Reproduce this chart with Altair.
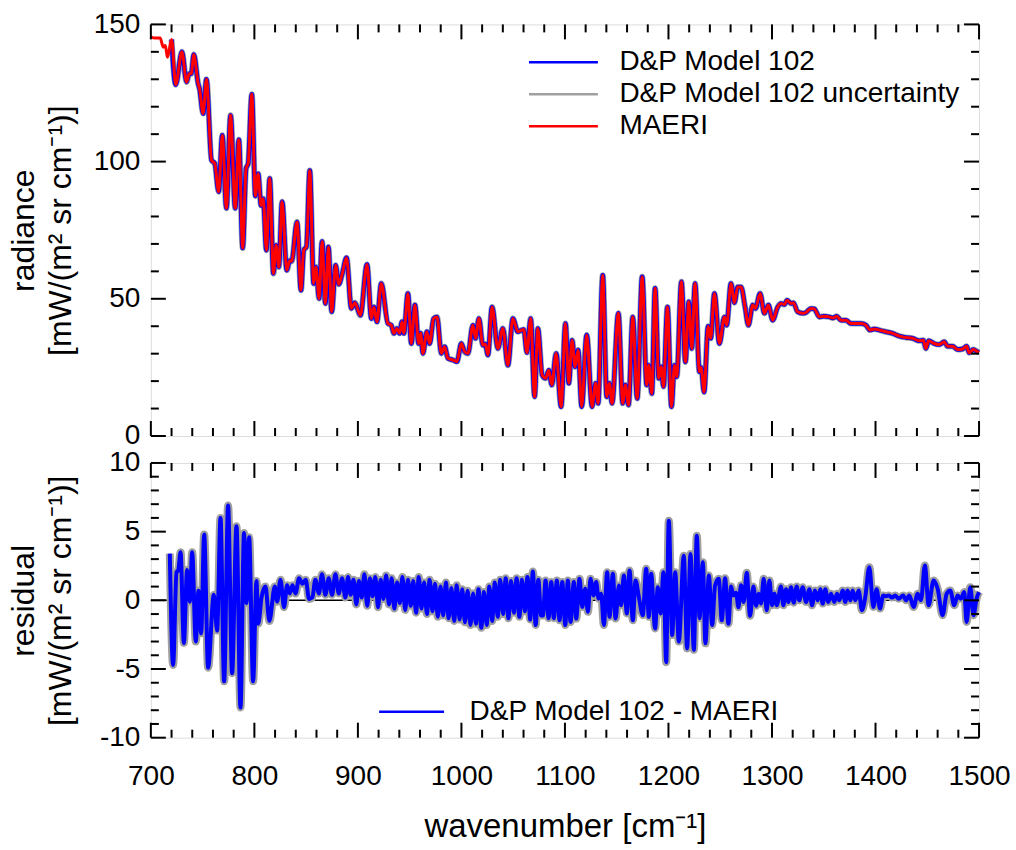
import altair as alt
import pandas as pd

# ---------------- data ----------------
MAERI_WN = [700, 704, 709, 712, 714, 716, 720, 724, 730, 734.5, 737, 739, 741.5, 745.7, 747, 750.5,
            753.7, 758.6, 761.7, 765.5, 769, 773, 777, 781.5, 785, 788.7, 792, 794, 797.5, 801,
            803.6, 806.5, 808.5, 811.6, 814.8, 818.4, 821, 823.6, 826.8, 831.3, 834.2, 836, 841.2,
            845, 847.7, 850.3, 853.5, 857.3, 859.5, 862.5, 865.4, 868.6, 871.5, 874.7, 878.5, 881.5,
            885, 889, 893.7, 897, 902.4, 908.8, 913, 915.5, 918.4, 922.6, 929, 932.2, 934.8, 937.7,
            940.3, 942.6, 944.4, 948.3, 951.6, 955.1, 958.7, 960.6, 962.8, 966.6, 969.3, 973.1,
            976.4, 980.6, 983.8, 987, 991.8, 995.7, 999.9, 1003.1, 1006.3, 1011.1, 1013.7, 1016.9,
            1020.7, 1023, 1025.6, 1029.6, 1035.2, 1040, 1044.9, 1049.7, 1054.5, 1057, 1060.2,
            1063.3, 1066.9, 1070.7, 1073.8, 1078, 1081.3, 1084.4, 1087.3, 1091.5, 1096.3, 1100.5,
            1103.7, 1106.9, 1109.8, 1112.7, 1116.2, 1121, 1126.2, 1129.6, 1132, 1136.5, 1140.4,
            1142.9, 1145.5, 1151.6, 1155.8, 1158.4, 1161.4, 1165.5, 1169.8, 1174.6, 1179, 1181,
            1183.9, 1187.1, 1190.6, 1192.9, 1195.2, 1199, 1202.9, 1205.8, 1208, 1212.5, 1216.4,
            1219.6, 1222.5, 1225.7, 1229.9, 1231.5, 1234.4, 1238.3, 1240.8, 1244.4, 1249.2, 1254,
            1256.2, 1260.4, 1263.7, 1266.9, 1270.1, 1274, 1277.2, 1281.4, 1284, 1288.5, 1292.7,
            1296.5, 1300.7, 1305.5, 1308.8, 1312, 1314.6, 1318.4, 1320.7, 1324.7, 1330.3, 1332.8,
            1337.7, 1340.9, 1345.8, 1349.7, 1355.4, 1358.7, 1362.5, 1366.7, 1371.5, 1376.3, 1381.1,
            1386, 1390.8, 1394.6, 1398.8, 1403.7, 1410, 1416.5, 1423, 1429.4, 1435.8, 1442.3,
            1446.2, 1448.7, 1451.3, 1456.7, 1461.5, 1466.4, 1469.6, 1474.4, 1479.3, 1484.1, 1488,
            1490.5, 1494.4, 1498.6, 1500]
MAERI_RAD = [145.5, 145, 145, 141.7, 142.3, 138, 144.5, 128, 140, 129, 132, 132, 139, 128.4, 126.6, 117.5,
             130, 100.5, 99.3, 89, 109.6, 83, 116.9, 83, 108, 68.5, 97.5, 99.3, 124.5, 87.5,
             95.6, 84, 86.5, 67.7, 93.8, 59.2, 69.5, 61.6, 85.4, 60.4, 64, 63.7, 78,
             53.1, 67.7, 69, 96.8, 55.6, 61.6, 50.1, 70.9, 48.3, 68.9, 45.3, 62.2, 55.3,
             59.3, 65, 46.5, 48.6, 44, 62.5, 42.8, 47, 41.6, 55.6, 41, 40.4, 37.4, 39.2,
             37.4, 41.6, 37.4, 51.9, 33.7, 47.7, 33.7, 37.4, 30.1, 38, 33.7, 42.8,
             43.4, 30.1, 32.5, 28.3, 27.7, 27.1, 33.7, 30.7, 30.1, 40.4, 35.6, 42.8,
             33.1, 33.5, 29.5, 47, 31.9, 39.2, 25.8, 42.8, 38, 38.4, 38.8,
             30.4, 42.8, 14.3, 39.2, 22.2, 21, 24, 18.6, 30.1, 10.7, 41,
             19.2, 34.9, 25.2, 31.3, 10.7, 36.8, 10.7, 19.2, 11.9, 58.6, 14.3,
             19.2, 11.9, 44.7, 11.9, 18.6, 11.3, 43.4, 13.7, 58, 18.6, 25.8,
             15.5, 53.8, 21, 25.2, 18, 47, 10.7, 25.8, 21.6, 56.2, 27,
             48.9, 31.9, 55.6, 23.4, 25, 16, 40, 35.6, 51.9, 33.7, 43.4,
             40.4, 55.6, 48.6, 54.3, 54.3, 47, 40.4, 47.7, 46.5, 51.9, 44.7,
             47.7, 42.2, 47, 48.3, 47.9, 49.5, 48.3, 48.6, 45.3, 44.7, 45,
             46.5, 46.3, 43.4, 43.6, 43.4, 43, 43.6, 42.2, 42.2, 41, 41,
             41, 40.4, 38.6, 39, 38.6, 38, 37.4, 36.4, 35.9, 35.6, 34.7,
             34.9, 31.9, 34.7, 33.7, 33.3, 34.3, 32.7, 32.7, 31.5, 31.7, 32.7,
             30.3, 31.5, 30.7, 30.5]

RES_WN = [718.3, 721.5, 724.8, 726.5, 728.7, 731.9, 735, 737.6, 739.9, 743.4, 746, 748.6, 751.5, 755.3,
          760.8, 764, 767.3, 770.8, 774.6, 778.5, 782.7, 786.6, 790, 792.4, 794.9, 798.8, 802, 803.8,
          806.9, 810.7, 814.5, 819.7, 822, 825.2, 828.7, 831.6, 834.2, 836.8, 839.7, 843.2, 846.4,
          849.6, 852.8, 856, 858.9, 862.4, 865.3, 868.6, 871.8, 875, 878.3,
          881.5, 884.7, 887.9, 890.5, 893, 895.8, 898.5, 901, 903.7, 906.3, 909, 911.6, 914.2, 916.8,
          919.5, 922, 924.7, 927.3, 930, 932.6, 935.2, 937.8, 940.5, 943, 945.7, 948.3, 951, 953.5,
          956.2, 958.8, 961.4, 964, 966.7, 969.3, 972, 974.5, 977.2, 979.8, 982.4, 985, 987.7, 990.3,
          993, 995.5, 998.2, 1000.8, 1003.4, 1006, 1008.7, 1011.3, 1014, 1016.5, 1019.2, 1021.8,
          1024.4, 1027, 1029.7, 1032.3, 1035, 1037.5, 1040.2, 1042.8, 1045.4, 1048, 1050.7, 1053.3,
          1056, 1058.5, 1061.2, 1063.8, 1066.4, 1069, 1071.7, 1074.3, 1077,
          1078.7, 1081.3, 1084.2, 1086.8, 1089.3, 1092.2, 1094.8, 1097.4, 1100.3, 1102.8, 1105.4,
          1108.6, 1110.9, 1114.1, 1116.7, 1119.6, 1122.2, 1124.7, 1127.6, 1130.2, 1132.5, 1135,
          1137.6, 1140.8, 1143.1, 1146.3, 1148.9, 1152.1, 1154.3, 1156.9, 1159.8, 1162.4, 1165.6,
          1168.2, 1171.4, 1175.2, 1178.5, 1181, 1183.3, 1187.1, 1189.7, 1192.3, 1195.2, 1197.8,
          1200.3, 1203.6, 1206.5, 1210, 1214.8, 1218, 1221.3, 1224.5, 1227.4, 1230, 1233.2, 1235.7,
          1239, 1242.2, 1245,
          1248.6, 1251.5, 1254.7, 1257.9, 1260.5, 1262.7, 1265.3, 1267.6, 1270.1, 1272.7, 1275.6,
          1278.8, 1282, 1284.6, 1287.2, 1289.4, 1292, 1294.9, 1297.5, 1300, 1302.3, 1304.6, 1308.7,
          1311, 1313.6, 1315.8, 1318.4, 1321, 1323.9, 1326.4, 1329.7, 1332.9, 1336.1, 1338.7,
          1341.6, 1344.1, 1346.7, 1349, 1351.5, 1354.4, 1357, 1360.2, 1362.8, 1365, 1368.3, 1370.8,
          1373.1, 1375.7, 1377.9, 1380.5, 1383.7, 1386.9, 1390.1, 1394, 1397.9, 1401.1, 1404.3,
          1407.5, 1410.1, 1412.7, 1415.9, 1419.1, 1422.3, 1426.8, 1429.4, 1432.6, 1436.8, 1440.7,
          1443.9, 1447.7, 1451.3, 1456.1, 1460, 1464.8, 1468.7, 1472.2, 1476, 1479.3, 1482.5,
          1485.7, 1488, 1491.5, 1494.7, 1497.6, 1500]
RES_VAL = [3.4, -4.7, 2.05, 2.2, 3.5, -3.1, 2.2, -0.1, 3.5, -3.0, 0.7, -2.4, 4.8, -4.9,
           0.4, -2.2, 6.0, -5.9, 6.9, -5.3, 5.4, -7.8, 4.9, -0.2, 4.6, -5.9, 1.4, -1.7,
           0.2, 1.0, -1.5, 1.0, -0.1, 1.5, -0.5, 1.1, 0.5, 1.1, 0.5, 1.6, 1.2,
           1.5, 0.1, 0.2, 1.5, 0.5, 1.9, 0.4, 1.6, 0.4, 1.9,
           0.5, 1.6, 0.2, 1.7, 0.4, 1.5, -0.3, 1.4, 0.2, 1.9, -0.4, 1.6, 0.3, 1.7,
           -0.5, 1.5, 0.1, 1.8, -0.3, 1.6, -0.6, 1.3, -0.2, 1.7, -0.7, 1.5, -0.4, 1.4,
           -0.9, 1.7, -0.6, 1.3, -1.0, 1.5, -0.8, 1.2, -1.2, 1.0, -1.1, 1.3, -1.3, 0.9,
           -1.5, 1.1, -1.4, 0.8, -1.6, 0.7, -1.8, 0.5, -1.7, 0.8, -2.0, 0.6,
           -1.8, 1.0, -1.5, 1.3, -1.2, 1.5, -1.0, 1.6, -1.3, 1.4, -0.9, 1.6,
           -1.2, 1.5, -0.8, 1.7, -1.4, 2.1, -1.8, 1.5, -1.1,
           -1.1, 1.45, -1.3, 1.33, -1.3, 1.45, -1.45, 1.33, -1.8, 1.45, -1.57,
           1.33, -1.33, 1.57, -0.48, 0.84, -0.84, 1.57, 0.36, 1.33, 0.12, 0.48,
           -1.8, 2.05, -1.2, 1.93, -1.33, 1.08, -0.36, 1.81, -0.96, 2.17, -1.45,
           1.45, 0.24, -1.08, 2.3, -1.2, 1.93, -2.05, 0.96, -0.96, 2.05, -4.5,
           5.8, -2.53, 2.05, -3.0, 3.25, -3.5, 3.37, -3.6, 4.7, -1.3, 2.77, -3.13,
           1.81, -1.8, 1.08,
           1.57, -1.45, 1.6, -1.7, 1.0, 0.36, 0.55, -0.5, 1.1, -0.12, 2.0,
           -1.13, 1.0, -0.4, 0.48, -0.24, 1.57, -0.72, 1.45, -0.36, 0.48, -0.36, 1.0,
           -0.36, 0.8, -0.12, 0.96, -0.17, 1.0, 0.0, 0.96, -0.12, 0.8, -0.36,
           0.72, 0.0, 0.8, -0.24, 0.8, -0.12, 0.48, -0.12, 0.48, 0.0, 0.72, -0.12,
           0.72, 0.0, 0.72, 0.0, 0.72, -0.72, 0.24, 2.4, -0.48, 0.8, -0.6,
           0.36, 0.3, 0.36, 0.2, 0.36, 0.12, 0.36, 0.0, 0.36, -0.48, 0.48,
           0.0, 2.53, -0.36, 1.45, 0.84, -1.08, 0.48, 0.72, -0.36, 0.36, 0.12,
           0.6, -1.57, 0.96, -1.08, 0.12, 0.6]

MODEL_START = 718

X_MAJOR = [700, 800, 900, 1000, 1100, 1200, 1300, 1400, 1500]
X_MINOR = [720, 740, 760, 780, 820, 840, 860, 880, 920, 940, 960, 980, 1020, 1040, 1060, 1080,
           1120, 1140, 1160, 1180, 1220, 1240, 1260, 1280, 1320, 1340, 1360, 1380, 1420, 1440,
           1460, 1480]
TOP_Y_MAJOR = [0, 50, 100, 150]
TOP_Y_MINOR = [10, 20, 30, 40, 60, 70, 80, 90, 110, 120, 130, 140]
BOT_Y_MAJOR = [-10, -5, 0, 5, 10]
BOT_Y_MINOR = [-9, -8, -7, -6, -4, -3, -2, -1, 1, 2, 3, 4, 6, 7, 8, 9]

TOP_SERIES = ["D&P Model 102", "D&P Model 102 uncertainty", "MAERI"]
TOP_COLORS = ["#0000ff", "#a0a0a0", "#ff0000"]
BOT_SERIES = ["D&P Model 102 - MAERI"]

# ---------------- styling ----------------
FONT = "Liberation Sans"
W = 829
H_TOP = 412
H_BOT = 275
MAJ = 15
MIN = 8
LABEL_EXPR = "'' + datum.value"

maeri = pd.DataFrame({"wn": MAERI_WN, "rad": MAERI_RAD})
resid = pd.DataFrame({"wn": RES_WN, "res": RES_VAL})

X_SCALE = alt.Scale(domain=[700, 1500], nice=False, zero=False)
Y_TOP = alt.Scale(domain=[0, 150], nice=False, zero=False)
Y_BOT = alt.Scale(domain=[-10, 10], nice=False, zero=False)

y_axis_common = dict(ticks=False, domain=False, grid=False, labelFont=FONT, labelFontSize=28,
                     labelColor="black", labelPadding=11, labelExpr=LABEL_EXPR, labelFlush=False,
                     labelOverlap=False, titleFont=FONT, titleFontSize=32,
                     titleFontWeight="normal", titleColor="black", titleX=-110, titleLineHeight=37)

TOP_X_AXIS = None
TOP_Y_AXIS = alt.Axis(values=TOP_Y_MAJOR, title=["radiance", "[mW/(m² sr cm⁻¹)]"], **y_axis_common)
BOT_X_AXIS = alt.Axis(values=X_MAJOR, title="wavenumber [cm⁻¹]", ticks=False, domain=False,
                      grid=False, labelFont=FONT, labelFontSize=28, labelColor="black",
                      labelPadding=25, labelExpr=LABEL_EXPR, labelFlush=False, labelOverlap=False,
                      titleFont=FONT, titleFontSize=33,
                      titleFontWeight="normal", titleColor="black", titlePadding=20)
BOT_Y_AXIS = alt.Axis(values=BOT_Y_MAJOR, title=["residual", "[mW/(m² sr cm⁻¹)]"], **y_axis_common)


def ticks(x_axis, y_scale, y_axis, y_major, y_minor, h):
    layers = []
    for vals, ln in ((X_MAJOR, MAJ), (X_MINOR, MIN)):
        d = pd.DataFrame({"t": vals})
        base = alt.Chart(d).mark_rule(color="black", strokeWidth=2)
        layers.append(base.encode(x=alt.X("t:Q", scale=X_SCALE, axis=x_axis),
                                  y=alt.value(h), y2=alt.value(h - ln)))
        layers.append(base.encode(x=alt.X("t:Q", scale=X_SCALE, axis=x_axis),
                                  y=alt.value(0), y2=alt.value(ln)))
    for vals, ln in ((y_major, MAJ), (y_minor, MIN)):
        d = pd.DataFrame({"t": vals})
        base = alt.Chart(d).mark_rule(color="black", strokeWidth=2)
        layers.append(base.encode(y=alt.Y("t:Q", scale=y_scale, axis=y_axis),
                                  x=alt.value(0), x2=alt.value(ln)))
        layers.append(base.encode(y=alt.Y("t:Q", scale=y_scale, axis=y_axis),
                                  x=alt.value(W), x2=alt.value(W - ln)))
    return layers


top_color_scale = alt.Scale(domain=TOP_SERIES, range=TOP_COLORS)
top_legend = alt.Legend(orient="none", legendX=377, legendY=22, title=None, symbolType="stroke",
                        symbolSize=4761, symbolStrokeWidth=2.5, clipHeight=32, rowPadding=0,
                        labelFont=FONT, labelFontSize=28, labelColor="black", labelOffset=20,
                        labelLimit=0, padding=0)

top_x = alt.X("wn:Q", scale=X_SCALE, axis=TOP_X_AXIS)
top_y = alt.Y("rad:Q", scale=Y_TOP, axis=TOP_Y_AXIS)
top_c = alt.Color("series:N", scale=top_color_scale, legend=top_legend)

unc_top = alt.Chart(maeri).transform_filter(alt.datum.wn >= MODEL_START).transform_calculate(
    series="'" + TOP_SERIES[1] + "'").mark_line(strokeWidth=6, interpolate="monotone").encode(
    x=top_x, y=top_y, color=top_c)
model_top = alt.Chart(maeri).transform_filter(alt.datum.wn >= MODEL_START).transform_calculate(
    series="'" + TOP_SERIES[0] + "'").mark_line(strokeWidth=4.5, interpolate="monotone").encode(
    x=top_x, y=top_y, color=top_c)
maeri_top = alt.Chart(maeri).transform_calculate(
    series="'" + TOP_SERIES[2] + "'").mark_line(strokeWidth=3, interpolate="monotone").encode(
    x=top_x, y=top_y, color=top_c)

top = alt.layer(unc_top, model_top, maeri_top,
                *ticks(TOP_X_AXIS, Y_TOP, TOP_Y_AXIS, TOP_Y_MAJOR, TOP_Y_MINOR, H_TOP)
                ).properties(width=W, height=H_TOP)

bot_color_scale = alt.Scale(domain=BOT_SERIES, range=["#0000ff"])
bot_legend = alt.Legend(orient="none", legendX=227, legendY=233, title=None, symbolType="stroke",
                        symbolSize=4225, symbolStrokeWidth=2.5, clipHeight=32, rowPadding=0,
                        labelFont=FONT, labelFontSize=28, labelColor="black", labelOffset=24,
                        labelLimit=0, padding=0)

bot_x = alt.X("wn:Q", scale=X_SCALE, axis=BOT_X_AXIS)
bot_y = alt.Y("res:Q", scale=Y_BOT, axis=BOT_Y_AXIS)

zero_line = alt.Chart(pd.DataFrame({"z": [0]})).mark_rule(color="black", strokeWidth=1.5).encode(
    y=alt.Y("z:Q", scale=Y_BOT, axis=BOT_Y_AXIS))
unc_bot = alt.Chart(resid).mark_line(strokeWidth=8, color="#a0a0a0", interpolate="monotone").encode(
    x=bot_x, y=bot_y)
res_bot = alt.Chart(resid).transform_calculate(series="'" + BOT_SERIES[0] + "'").mark_line(
    strokeWidth=4, interpolate="monotone").encode(
    x=bot_x, y=bot_y,
    color=alt.Color("series:N", scale=bot_color_scale, legend=bot_legend))

bottom = alt.layer(zero_line, unc_bot, res_bot,
                   *ticks(BOT_X_AXIS, Y_BOT, BOT_Y_AXIS, BOT_Y_MAJOR, BOT_Y_MINOR, H_BOT)
                   ).properties(width=W, height=H_BOT)

chart = alt.vconcat(top, bottom, spacing=27, bounds="flush").resolve_scale(
    color="independent").resolve_legend(color="independent").configure_view(
    stroke="black", strokeWidth=2).configure(background="white").properties(
    padding={"left": 7, "top": 9, "right": 5, "bottom": 5})

chart.save("out.html", embed_options={"renderer": "svg", "actions": False})
